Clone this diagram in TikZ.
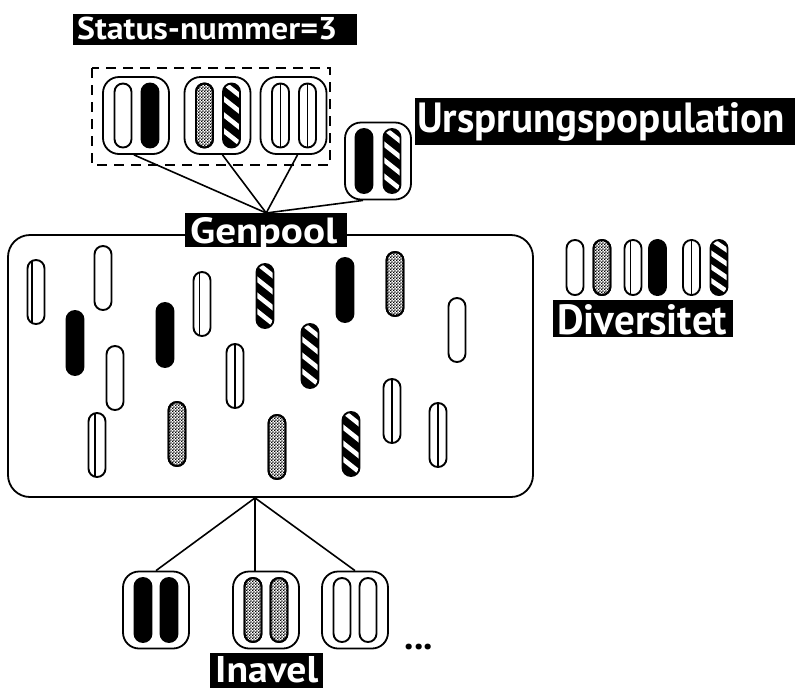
\documentclass[tikz,border=0pt]{standalone}
\usepackage{fontspec}
\setmainfont{PT Sans}
\usetikzlibrary{patterns}
% fine checkered fill for one allele type
\pgfdeclarepatternformonly{finecheck}{\pgfpointorigin}{\pgfqpoint{3.2pt}{3.2pt}}{\pgfqpoint{3.2pt}{3.2pt}}{%
  \pgfpathrectangle{\pgfpointorigin}{\pgfqpoint{1.6pt}{1.6pt}}%
  \pgfpathrectangle{\pgfqpoint{1.6pt}{1.6pt}}{\pgfqpoint{1.6pt}{1.6pt}}%
  \pgfusepath{fill}}
\begin{document}
\begin{tikzpicture}[x=1pt,y=-1pt,
  conn/.style={line width=1.6pt},
  genbox/.style={draw, line width=1.8pt, rounded corners=16pt, minimum width=66pt,
    minimum height=77pt, inner sep=0pt, fill=white},
  poolbox/.style={draw, line width=1.8pt, rounded corners=22pt, minimum width=525pt,
    minimum height=262pt, inner sep=0pt},
  lblbox/.style={fill=black, inner sep=0pt, anchor=north west},
  lbltext/.style={text=white, font=\bfseries, inner sep=0pt, anchor=base west},
  ovalline/.style={line width=1.9pt},
  ovalpath/.style={rounded corners=8.4pt},
  pics/alW/.style={code={
    \draw[ovalline, ovalpath, fill=white] (-8.5,-32) rectangle (8.5,32);}},
  pics/alB/.style={code={
    \draw[ovalline, ovalpath, fill=black] (-8.5,-32) rectangle (8.5,32);}},
  pics/alC/.style={code={
    \draw[ovalline, ovalpath, fill=white] (-8.5,-32) rectangle (8.5,32);
    \draw[ovalline, ovalpath, pattern=finecheck] (-8.5,-32) rectangle (8.5,32);}},
  pics/alV/.style={code={
    \draw[ovalline, ovalpath, fill=white] (-8.5,-32) rectangle (8.5,32);
    \begin{scope}
      \clip[ovalpath] (-8.5,-32) rectangle (8.5,32);
      \draw[line width=1.5pt] (#1,-33) -- (#1,33);
    \end{scope}}},
  pics/alV/.default=0,
  pics/alS/.style={code={
    \fill[ovalpath] (-8.5,-32) rectangle (8.5,32);
    \begin{scope}
      \clip[ovalpath] (-8.5,-32) rectangle (8.5,32);
      \foreach \s in {-52,-36,-20,-4,12,28}
        \draw[white, line width=4.6pt] (-12,\s) -- (12,\s+19);
    \end{scope}
    \draw[ovalline, ovalpath] (-8.5,-32) rectangle (8.5,32);}},
]
\useasboundingbox (0,0) rectangle (806,689);

% ---- status label and dashed group ----
\node[lblbox, minimum width=284pt, minimum height=31pt] (statusbox) at (73,14) {};
\node[lbltext] (statustext) at (77,39.5) {\resizebox{260pt}{22.5pt}{Status-nummer=3}};
\draw[line width=1.6pt, dash pattern=on 10pt off 7pt] (92,68) rectangle (330,165);

% ---- genotype boxes of the founders ----
\node[genbox] (g1) at (136,115.5) {};
\node[genbox] (g2) at (217.5,115.5) {};
\node[genbox] (g3) at (293.5,115.5) {};
\node[genbox] (g4) at (378,161) {};
\pic at ([xshift=-13pt]g1.center) {alW};
\pic at ([xshift=14pt]g1.center) {alB};
\pic at ([xshift=-13pt]g2.center) {alC};
\pic at ([xshift=14pt]g2.center) {alS};
\pic at ([xshift=-13pt]g3.center) {alV};
\pic at ([xshift=14pt]g3.center) {alV};
\pic at ([xshift=-14pt]g4.center) {alB};
\pic at ([xshift=14pt]g4.center) {alS};

\node[lblbox, minimum width=380pt, minimum height=47pt] (ursbox) at (415,98) {};
\node[lbltext] (urstext) at (417,132) {\resizebox{368pt}{30pt}{Ursprungspopulation}};

% ---- gene pool ----
\node[poolbox] (pool) at (270.5,366) {};
\pic at (36,292) {alV=-4};
\pic at (103,278) {alW};
\pic at (202,304) {alV=-2.5};
\pic at (265,296) {alS};
\pic at (345,290) {alB};
\pic at (395,284) {alC};
\pic at (457,330) {alW};
\pic at (75,343) {alB};
\pic at (165,335) {alB};
\pic at (310,356) {alS};
\pic at (115,378) {alW};
\pic at (235,376) {alV};
\pic at (97,445) {alV=-2};
\pic at (177,434) {alC};
\pic at (277,447) {alC};
\pic at (351,444) {alS};
\pic at (392,411) {alV};
\pic at (438,435) {alV};

\node[lblbox, minimum width=162pt, minimum height=34pt] (genpool) at (185,213) {};
\node[lbltext] (genpooltext) at (190,243) {\resizebox{147pt}{26pt}{Genpool}};

\draw[conn] ([xshift=-2pt]g1.south) -- (genpool.north);
\draw[conn] ([xshift=5pt]g2.south) -- (genpool.north);
\draw[conn] ([xshift=4pt]g3.south) -- (genpool.north);
\draw[conn] ([xshift=-15pt]g4.south) -- (genpool.north);

% ---- diversity ----
\pic[yscale=0.86] at (575,267.5) {alW};
\pic[yscale=0.86] at (602,267.5) {alC};
\pic[yscale=0.86] at (633,267.5) {alV=-2.5};
\pic[yscale=0.86] at (657.5,267.5) {alB};
\pic[yscale=0.86] at (691.5,267.5) {alV};
\pic[yscale=0.86] at (719,267.5) {alS};
\node[lblbox, minimum width=180pt, minimum height=37pt] (divbox) at (553,300) {};
\node[lbltext] (divtext) at (557,334) {\resizebox{170pt}{30pt}{Diversitet}};

% ---- inbred offspring ----
\node[genbox] (ia) at (156,610) {};
\node[genbox] (ib) at (266,610) {};
\node[genbox] (ic) at (355,610) {};
\pic at ([xshift=-13pt]ia.center) {alB};
\pic at ([xshift=13pt]ia.center) {alB};
\pic at ([xshift=-13pt]ib.center) {alC};
\pic at ([xshift=13pt]ib.center) {alC};
\pic at ([xshift=-13pt]ic.center) {alW};
\pic at ([xshift=13pt]ic.center) {alW};

\coordinate (foot) at ([xshift=-15.5pt]pool.south);
\draw[conn] (foot) -- (ia.north);
\draw[conn] (foot) -- ([xshift=-11pt]ib.north);
\draw[conn] (foot) -- (ic.north);

\node[anchor=base west, inner sep=0pt, font=\bfseries] (dots) at (404,649) {\resizebox{29pt}{!}{...}};

\node[lblbox, minimum width=113pt, minimum height=35pt] (inabox) at (210,653) {};
\node[lbltext] (inatext) at (215,682) {\resizebox{103pt}{26pt}{Inavel}};
\end{tikzpicture}
\end{document}
